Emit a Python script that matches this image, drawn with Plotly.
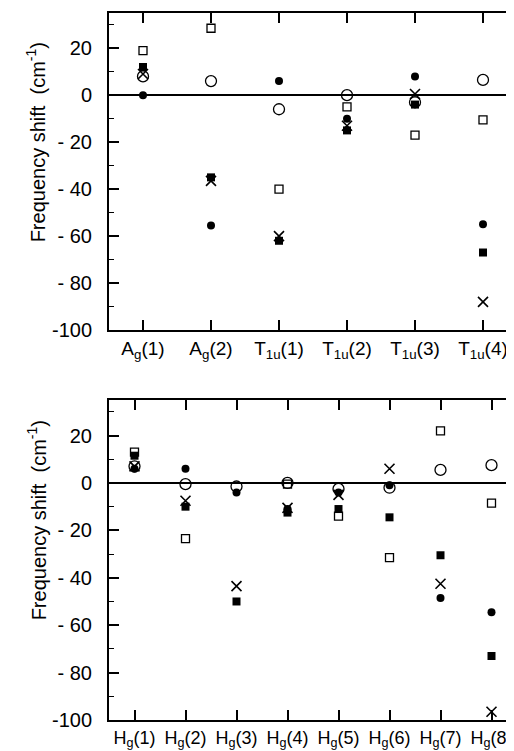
import plotly.graph_objects as go

# ---- data ----
cats_top = ["A<sub>g</sub>(1)", "A<sub>g</sub>(2)", "T<sub>1u</sub>(1)",
            "T<sub>1u</sub>(2)", "T<sub>1u</sub>(3)", "T<sub>1u</sub>(4)"]
filled_circle_top = [0, -55.5, 6, -10, 8, -55]
open_circle_top = [8, 6, -6, 0, -3, 6.5]
filled_square_top = [12, -35, -62, -15, -4, -67]
open_square_top = [19, 28.5, -40, -5, -17, -10.5]
cross_top = [9, -36.5, -60, -13, 0.5, -88]

cats_bot = ["H<sub>g</sub>(1)", "H<sub>g</sub>(2)", "H<sub>g</sub>(3)", "H<sub>g</sub>(4)",
            "H<sub>g</sub>(5)", "H<sub>g</sub>(6)", "H<sub>g</sub>(7)", "H<sub>g</sub>(8)"]
filled_circle_bot = [6, 6, -4, -11, -4, -1, -48.5, -54.5]
open_circle_bot = [7, -0.5, -1.5, 0, -2.5, -2, 5.5, 7.5]
filled_square_bot = [11.5, -10, -50, -12.5, -11, -14.5, -30.5, -73]
open_square_bot = [13, -23.5, None, -0.5, -14, -31.5, 22, -8.5]
cross_bot = [7, -7.5, -43.5, -10.5, -5, 6, -42.5, -96.5]

y_tickvals = [20, 0, -20, -40, -60, -80, -100]
y_ticktext = ["20", "0", "- 20", "- 40", "- 60", "- 80", "-100"]
y_title = "Frequency shift  (cm<sup>-1</sup>)"

FONT = "Liberation Sans, Arial, sans-serif"

styles = [
    dict(symbol="circle", size=8, color="black", line=dict(width=0)),
    dict(symbol="circle-open", size=11, color="black", line=dict(width=1.3)),
    dict(symbol="square", size=8, color="black", line=dict(width=0)),
    dict(symbol="square-open", size=8, color="black", line=dict(width=1.3)),
    dict(symbol="x-thin-open", size=10, color="black", line=dict(width=1.6, color="black")),
]

fig = go.Figure()
for cats, series, xa, ya in [
    (cats_top, [filled_circle_top, open_circle_top, filled_square_top, open_square_top, cross_top], "x", "y"),
    (cats_bot, [filled_circle_bot, open_circle_bot, filled_square_bot, open_square_bot, cross_bot], "x2", "y2"),
]:
    for vals, st in zip(series, styles):
        fig.add_trace(go.Scatter(x=cats, y=vals, mode="markers", marker=st,
                                 xaxis=xa, yaxis=ya, showlegend=False, cliponaxis=False))

L, R, T, B = 101, 3, 5, 39
W, H = 514, 751
ph = H - T - B
top_dom = [(712 - 322) / ph, 1.0]
bot_dom = [0.0, (712 - 392) / ph]

xcommon = dict(type="category", showline=True, linecolor="black", linewidth=2, mirror="allticks",
               ticks="inside", ticklen=10, tickwidth=1.5, tickcolor="black", showgrid=False,
               zeroline=False)
ycommon = dict(range=[-100, 35], showline=True, linecolor="black", linewidth=2, mirror="allticks",
               ticks="inside", ticklen=10, tickwidth=1.5, tickcolor="black", showgrid=False,
               tickvals=y_tickvals, ticktext=y_ticktext,
               minor=dict(dtick=10, ticks="inside", ticklen=5, tickwidth=1.2, tickcolor="black"),
               zeroline=True, zerolinecolor="black", zerolinewidth=1.6,
               ticklabelstandoff=11,
               tickfont=dict(family=FONT, size=20, color="black"))

fig.update_layout(
    width=W, height=H, margin=dict(l=L, r=R, t=T, b=B),
    plot_bgcolor="white", paper_bgcolor="white",
    xaxis=dict(xcommon, domain=[0, 1], anchor="y", range=[-0.5, 5.5],
               tickfont=dict(family=FONT, size=19, color="black")),
    yaxis=dict(ycommon, domain=top_dom, anchor="x"),
    xaxis2=dict(xcommon, domain=[0, 1], anchor="y2", range=[-0.5, 7.5],
                tickfont=dict(family=FONT, size=18, color="black")),
    yaxis2=dict(ycommon, domain=bot_dom, anchor="x2"),
)

pw = W - L - R
for yc in [(712 - 134) / ph, (712 - 512) / ph]:
    fig.add_annotation(text=y_title, xref="paper", yref="paper", x=(28 - L) / pw, y=yc,
                       xanchor="center", yanchor="middle", textangle=-90, showarrow=False,
                       font=dict(family=FONT, size=20, color="black"))

fig.write_html("out.html")
